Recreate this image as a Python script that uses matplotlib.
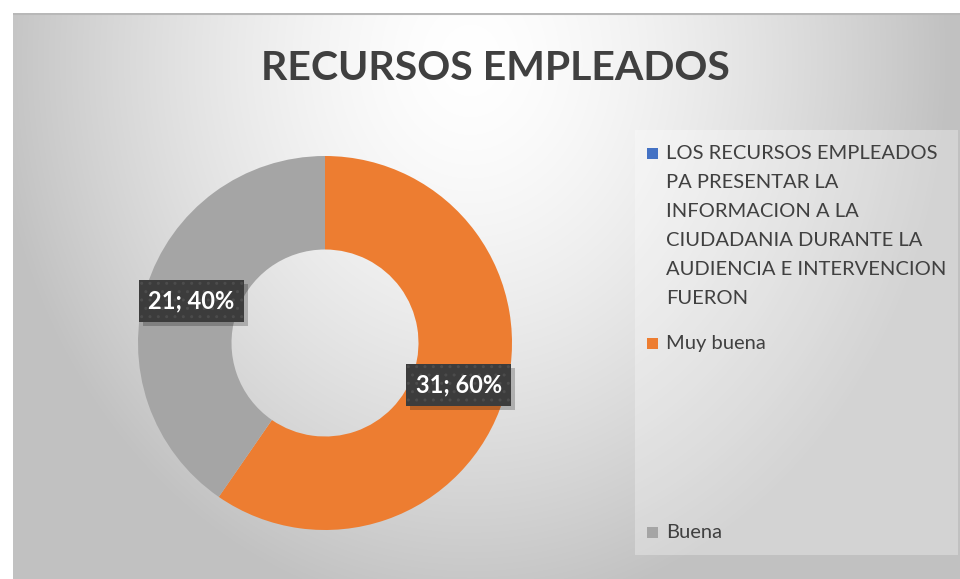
import numpy as np
import matplotlib
matplotlib.use("Agg")
import matplotlib.pyplot as plt
from matplotlib.patches import Rectangle
from matplotlib.transforms import IdentityTransform

# datos
series = ["LOS RECURSOS EMPLEADOS\nPA PRESENTAR LA\nINFORMACION A LA\nCIUDADANIA DURANTE LA\nAUDIENCIA E INTERVENCION\nFUERON",
          "Muy buena", "Buena"]
valores = [0, 31, 21]
colores = ["#4472C4", "#ED7D31", "#A5A5A5"]
titulo = "RECURSOS EMPLEADOS"

W, H = 960, 579
fig = plt.figure(figsize=(W / 100, H / 100), dpi=100)
fig.patch.set_facecolor("white")


def px(x, y, w, h):
    # caja en pixeles (desde arriba) -> coords de figura
    return [x / W, 1 - (y + h) / H, w / W, h / H]


# fondo con degradado radial
bw, bh = W - 13, H - 13
bg = fig.add_axes(px(13, 13, bw, bh))
bg.set_axis_off()
xx, yy = np.meshgrid(np.arange(13, W), np.arange(13, H))
d = np.sqrt(((xx - 470) / 480.0) ** 2 + ((yy - 60) / 560.0) ** 2)
d = np.clip(d, 0, 1) ** 1.5
g = (255 - 62 * d) / 255.0
bg.imshow(np.dstack([g, g, g]), aspect="auto", interpolation="bilinear",
          extent=(0, bw, bh, 0))
bg.plot([0, bw], [0.5, 0.5], color="#b8b8b8", lw=1.5)
bg.set_xlim(0, bw)
bg.set_ylim(bh, 0)
# panel de la leyenda
bg.add_patch(Rectangle((635 - 13, 130 - 13), 323, 425, fc="white", alpha=0.3, ec="none"))

fig.text(495 / W, 1 - 68 / H, titulo, ha="center", va="center",
         fontsize=29.5, fontweight="bold", color="#404040", family="Lato")

# dona
R = 187
ax = fig.add_axes(px(325 - R, 343 - R, 2 * R, 2 * R))
ax.set_axis_off()
wedges, _ = ax.pie(valores, colors=colores, startangle=90, counterclock=False,
                   wedgeprops=dict(width=0.5, linewidth=0), radius=1)
ax.set_xlim(-1, 1)
ax.set_ylim(-1, 1)

total = sum(valores)
ang = 90.0
etiquetas = []
for v in valores:
    a = ang - 360.0 * v / total / 2
    ang -= 360.0 * v / total
    if v == 0:
        continue
    x, y = 0.75 * np.cos(np.radians(a)), 0.75 * np.sin(np.radians(a))
    lab = "%d; %d%%" % (v, round(100.0 * v / total))
    t = ax.text(x, y, lab, ha="center", va="center", fontsize=17, fontweight="bold",
                color="white", family="Lato", zorder=5,
                bbox=dict(boxstyle="square,pad=0.4", fc="#3c3c3c", ec="#4c4c4c", lw=0, hatch=".."))
    etiquetas.append(t)

# sombra de las etiquetas
fig.canvas.draw()
for t in etiquetas:
    bb = t.get_bbox_patch().get_window_extent()
    ax.add_patch(Rectangle((bb.x0 + 4, bb.y0 - 4), bb.width, bb.height, transform=IdentityTransform(),
                           fc="black", alpha=0.22, ec="none", zorder=4, clip_on=False))

# leyenda
leg_y = [153, 343, 532]
for lab, c, y in zip(series, colores, leg_y):
    fig.patches.append(Rectangle((647 / W, 1 - (y + 6) / H), 11 / W, 11 / H,
                                 transform=fig.transFigure, fc=c, ec="none"))
    fig.text(666 / W, 1 - (y - 8) / H, lab, ha="left", va="top", fontsize=14.5,
             color="#404040", family="Lato", linespacing=1.85)

fig.savefig("out.png", dpi=100)
